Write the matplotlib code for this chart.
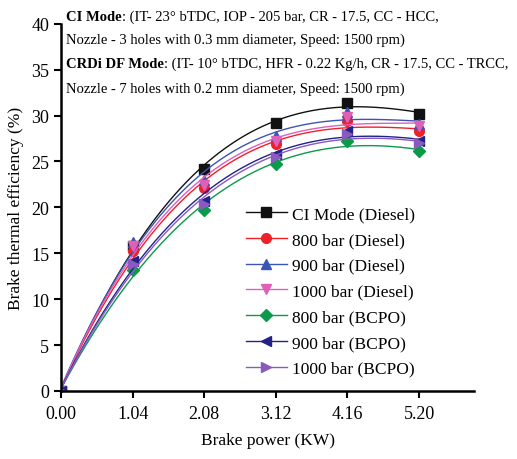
import matplotlib
matplotlib.use("Agg")
import matplotlib.pyplot as plt
import numpy as np

plt.rcParams['font.family'] = ['Liberation Serif', 'DejaVu Serif']

# brake power (KW)
bp = [0.0, 1.04, 2.08, 3.12, 4.16, 5.20]

# brake thermal efficiency (%)
ci_diesel = [0.0, 15.8, 24.2, 29.2, 31.4, 30.2]
d800 = [0.0, 15.3, 22.1, 26.9, 29.4, 28.3]
d900 = [0.0, 16.2, 23.0, 27.8, 30.4, 29.1]
d1000 = [0.0, 15.8, 22.4, 27.2, 29.8, 28.9]
b800 = [0.0, 13.2, 19.7, 24.7, 27.2, 26.1]
b900 = [0.0, 14.2, 20.7, 25.8, 28.3, 27.2]
b1000 = [0.0, 13.8, 20.4, 25.5, 28.0, 27.0]

labels = ['CI Mode (Diesel)', '800 bar (Diesel)', '900 bar (Diesel)',
          '1000 bar (Diesel)', '800 bar (BCPO)', '900 bar (BCPO)',
          '1000 bar (BCPO)']
series = [ci_diesel, d800, d900, d1000, b800, b900, b1000]
colors = ['#111111', '#f0202a', '#3a55b4', '#e060b8', '#0a9a4a',
          '#22228a', '#8a5ac0']
markers = ['s', 'o', '^', 'v', 'D', '<', '>']
msizes = [6.5, 7, 7, 7, 6, 7, 7]

fig = plt.figure(figsize=(5.17, 4.6), dpi=100)
ax = fig.add_axes([0.118, 0.148, 0.799, 0.798])

xs = np.linspace(0, 5.2, 200)
for y, lab, c, m, ms in zip(series, labels, colors, markers, msizes):
    # smooth polynomial fit through the measured points
    coef = np.polyfit(bp, y, 3)
    ax.plot(xs, np.polyval(coef, xs), color=c, lw=1.0)
    ax.plot(bp, y, linestyle='none', marker=m, color=c, ms=ms)
    ax.plot([], [], color=c, lw=1.0, marker=m, ms=ms, label=lab)

ax.set_xlim(0, 6.0)
ax.set_ylim(0, 40)
ax.set_xticks(bp)
ax.set_xticklabels(['%.2f' % v for v in bp])
ax.set_yticks(range(0, 41, 5))
for s in ['top', 'right']:
    ax.spines[s].set_visible(False)
for s in ['left', 'bottom']:
    ax.spines[s].set_linewidth(1.8)
ax.tick_params(direction='out', length=5, width=1.5, labelsize=13)
ax.tick_params(axis='x', pad=5)

ax.set_xlabel('Brake power (KW)', fontsize=12.5, labelpad=7)
ax.set_ylabel('Brake thermal efficiency (%)', fontsize=12.5, labelpad=5)

# engine settings text, bold mode name followed by regular details
fs = 10.5
x0 = 0.128
t1 = fig.text(x0, 0.963, 'CI Mode', fontsize=fs, fontweight='bold',
              va='center')
ax.annotate(': (IT- 23° bTDC, IOP - 205 bar, CR - 17.5, CC - HCC,',
            xy=(1, 0), xycoords=t1, va='bottom', fontsize=fs)
fig.text(x0, 0.913, 'Nozzle - 3 holes with 0.3 mm diameter, Speed: 1500 rpm)',
         fontsize=fs, va='center')
t3 = fig.text(x0, 0.859, 'CRDi DF Mode', fontsize=fs, fontweight='bold',
              va='center')
ax.annotate(': (IT- 10° bTDC, HFR - 0.22 Kg/h, CR - 17.5, CC - TRCC,',
            xy=(1, 0), xycoords=t3, va='bottom', fontsize=fs)
fig.text(x0, 0.807, 'Nozzle - 7 holes with 0.2 mm diameter, Speed: 1500 rpm)',
         fontsize=fs, va='center')

ax.legend(loc='lower left', bbox_to_anchor=(0.43, 0.02), frameon=False,
          fontsize=12.5, handlelength=2.4, labelspacing=0.55,
          handletextpad=0.3, borderaxespad=0)

fig.savefig('out.png', dpi=100)
